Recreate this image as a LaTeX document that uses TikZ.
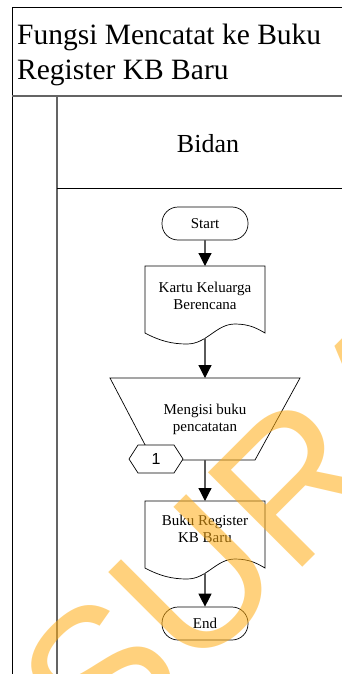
\documentclass[tikz,border=0pt]{standalone}
\usepackage{fontspec}
\setmainfont{Liberation Serif}
\newfontfamily\wmfont{Liberation Sans}
\newfontfamily\numfont{Liberation Sans}
\usetikzlibrary{arrows.meta}
\definecolor{wmorange}{RGB}{255,173,20}
\definecolor{laneline}{RGB}{100,100,100}
\definecolor{flowline}{RGB}{90,90,90}
\tikzset{
  frame/.style={draw=black, line width=0.8pt},
  lanesep/.style={draw=laneline, line width=1.8pt},
  outline/.style={draw=black, line width=0.7pt},
  flow/.style={draw=flowline, line width=1.2pt,
    -{Triangle[width=13pt,length=13pt,color=black]}},
  shapetext/.style={font=\fontsize{15}{17}\selectfont, align=center, inner sep=0pt},
  term/.style={outline, rounded corners=16pt, minimum width=86pt,
    minimum height=33pt, inner sep=0pt, font=\fontsize{15}{17}\selectfont},
  wm/.style={font=\wmfont\fontsize{194}{194}\selectfont, text=wmorange,
    text opacity=0.55, inner sep=0pt},
  docshape/.pic={
    \draw[outline, fill=white] (-60,67) .. controls (-45,75) and (-33,78) .. (-18,78)
      .. controls (2,78) and (11,58) .. (30,58)
      .. controls (45,58) and (53,63) .. (60,67) -- (60,0) -- (-60,0) -- cycle;
  }
}
\begin{document}
\begin{tikzpicture}[x=1pt,y=-1pt]
\useasboundingbox (0,0) rectangle (342,674);
\fill[white] (0,0) rectangle (342,674);

% pool frame and lane
\draw[frame] (12,674) -- (12,7) -- (342,7);
\draw[lanesep] (12,96) -- (342,96);
\draw[lanesep] (57,96) -- (57,674);
\draw[frame] (57,188) -- (342,188);

\node[anchor=base west, inner sep=0pt, font=\fontsize{29.5}{35}\selectfont] (title1) at (17,45) {Fungsi Mencatat ke Buku};
\node[anchor=base west, inner sep=0pt, font=\fontsize{29.5}{35}\selectfont] (title2) at (17,80) {Register KB Baru};
\node[anchor=base, inner sep=0pt, font=\fontsize{26}{30}\selectfont] (lane) at (208,152) {Bidan};

% flow shapes
\node[term] (start) at (205,223.5) {Start};

\pic at (205,266) {docshape};
\coordinate (doc1-top) at (205,266);
\coordinate (doc1-bot) at (205,338);
\node[shapetext, anchor=base] (doc1) at (205,309) {Kartu Keluarga\\Berencana};

\draw[outline] (110,378) -- (300,378) -- (255,460) -- (153,460) -- cycle;
\coordinate (op-top) at (205,378);
\coordinate (op-bot) at (205,460);
\node[shapetext, anchor=base] (op) at (205,431) {Mengisi buku\\pencatatan};

\draw[outline, fill=white] (129,459) -- (138,445) -- (174,445) -- (183,459)
  -- (174,473) -- (138,473) -- cycle;
\node[inner sep=0pt, font=\numfont\fontsize{16}{18}\selectfont] (conn1) at (156,459) {1};

\pic at (205,501) {docshape};
\coordinate (doc2-top) at (205,501);
\coordinate (doc2-bot) at (205,573);
\node[shapetext, anchor=base] (doc2) at (205,542) {Buku Register\\KB Baru};

\node[term] (end) at (205,623.5) {End};

% connectors
\draw[flow] (start) -- (doc1-top);
\draw[flow] (doc1-bot) -- (op-top);
\draw[flow] (op-bot) -- (doc2-top);
\draw[flow] (doc2-bot) -- (end);

% watermark
\begin{scope}
  \clip (0,0) rectangle (342,674);
  \node[wm, anchor=base west, rotate=45] (mark) at (101,769) {SURA};
\end{scope}
\end{tikzpicture}
\end{document}
